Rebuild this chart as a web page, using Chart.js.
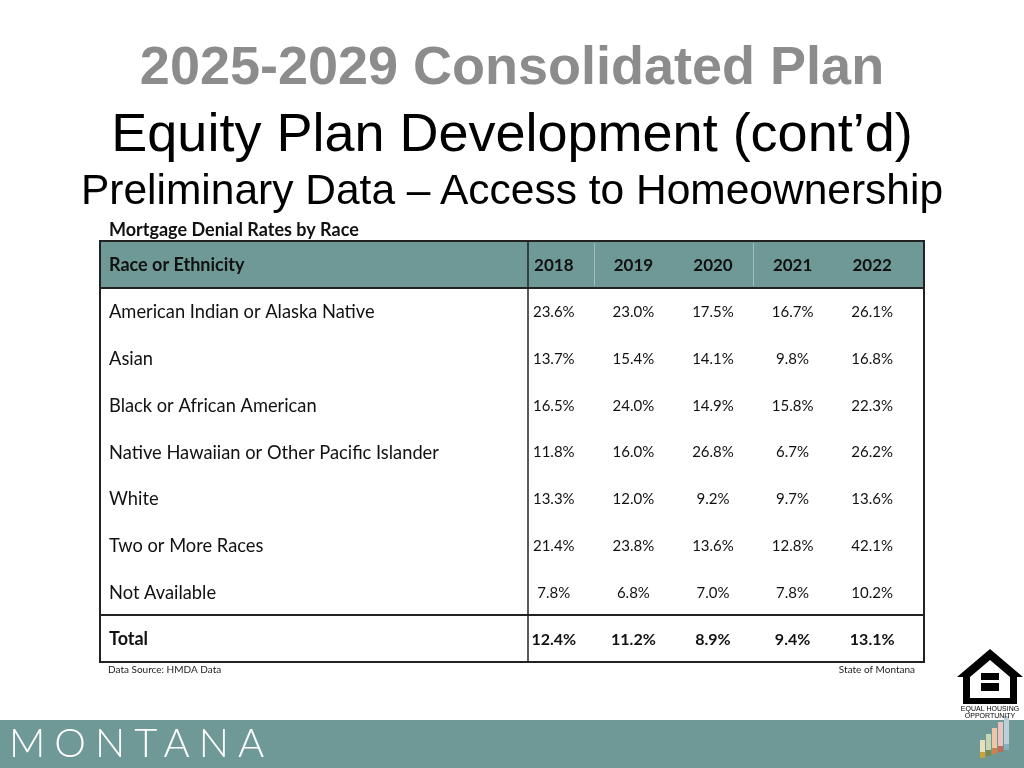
<!DOCTYPE html>
<html><head><meta charset="utf-8">
<script src="https://cdn.jsdelivr.net/npm/chart.js@4.4.1/dist/chart.umd.min.js"></script>
<style>
html,body{margin:0;padding:0;background:#fff;}
#wrap{position:relative;width:1024px;height:768px;overflow:hidden;}
canvas{position:absolute;left:0;top:0;}
.t{position:absolute;left:0;width:1024px;text-align:center;font-family:"Liberation Sans",Arial,sans-serif;white-space:nowrap;}
</style></head>
<body><div id="wrap">
<canvas id="c" width="1024" height="768"></canvas>
<div class="t" style="top:34px;font-size:54px;font-weight:bold;color:#8c8c8c;">2025-2029 Consolidated Plan</div>
<div class="t" style="top:101px;font-size:54px;color:#000;">Equity Plan Development (cont’d)</div>
<div class="t" style="top:166px;font-size:42.5px;color:#000;">Preliminary Data – Access to Homeownership</div>
</div>
<script>
const tableTitle = "Mortgage Denial Rates by Race";
const headerLabel = "Race or Ethnicity";
const years = ["2018","2019","2020","2021","2022"];
const rows = ["American Indian or Alaska Native","Asian","Black or African American","Native Hawaiian or Other Pacific Islander","White","Two or More Races","Not Available","Total"];
const v2018 = [23.6,13.7,16.5,11.8,13.3,21.4,7.8,12.4];
const v2019 = [23.0,15.4,24.0,16.0,12.0,23.8,6.8,11.2];
const v2020 = [17.5,14.1,14.9,26.8,9.2,13.6,7.0,8.9];
const v2021 = [16.7,9.8,15.8,6.7,9.7,12.8,7.8,9.4];
const v2022 = [26.1,16.8,22.3,26.2,13.6,42.1,10.2,13.1];
const sourceNote = "Data Source: HMDA Data";
const stateNote = "State of Montana";
const bandText = "MONTANA";

const series = [v2018,v2019,v2020,v2021,v2022];
const TEAL = "#6e9997";
const F = 'Lato, "Open Sans", sans-serif';
const TBL = {left:100,right:924,top:241};

const tablePlugin = {
  id:'tablePlugin',
  beforeDatasetsDraw(chart){
    const ctx = chart.ctx, ca = chart.chartArea;
    const xs = chart.scales.x, ys = chart.scales.y;
    ctx.save();
    ctx.fillStyle = TEAL;
    ctx.fillRect(TBL.left, TBL.top, TBL.right-TBL.left, ca.top-TBL.top);
    ctx.strokeStyle = "rgba(255,255,255,0.35)";
    ctx.lineWidth = 1;
    [0,2].forEach(i=>{
      const xm = Math.round((xs.getPixelForValue(i)+xs.getPixelForValue(i+1))/2)+0.5;
      ctx.beginPath();ctx.moveTo(xm,TBL.top+2);ctx.lineTo(xm,ca.top-2);ctx.stroke();
    });
    ctx.strokeStyle = "#222"; ctx.lineWidth = 2;
    ctx.strokeRect(TBL.left, TBL.top, TBL.right-TBL.left, ca.bottom-TBL.top);
    ctx.beginPath();ctx.moveTo(TBL.left,ca.top);ctx.lineTo(TBL.right,ca.top);ctx.stroke();
    const yTot = Math.round((ys.getPixelForValue(rows.length-2)+ys.getPixelForValue(rows.length-1))/2);
    ctx.beginPath();ctx.moveTo(TBL.left,yTot);ctx.lineTo(TBL.right,yTot);ctx.stroke();
    ctx.lineWidth = 1.5;
    ctx.beginPath();ctx.moveTo(528,TBL.top);ctx.lineTo(528,ca.bottom);ctx.stroke();
    ctx.fillStyle = "#111"; ctx.textBaseline = "middle";
    const hy = (TBL.top+ca.top)/2+1;
    ctx.font = "bold 18px "+F; ctx.textAlign = "left";
    ctx.fillText(headerLabel, 109, hy);
    ctx.font = "bold 17px "+F;
    ctx.textAlign = "center";
    years.forEach((y,i)=>ctx.fillText(y, xs.getPixelForValue(i), hy));
    ctx.textAlign = "left";
    rows.forEach((r,i)=>{
      ctx.font = (i===rows.length-1?"bold 18px ":"18.3px ")+F;
      ctx.fillText(r, 109, ys.getPixelForValue(i)+1);
    });
    ctx.font = "bold 18px "+F; ctx.textBaseline="alphabetic";
    ctx.fillText(tableTitle, 109, 236);
    ctx.font = "10px "+F; ctx.fillStyle="#222";
    ctx.fillText(sourceNote, 108, 673);
    ctx.textAlign="right";
    ctx.fillText(stateNote, 915, 673);
    // band
    ctx.fillStyle = TEAL;
    ctx.fillRect(0,720,1024,48);
    ctx.fillStyle = "#fff"; ctx.textAlign="left";
    ctx.font = '300 40px Lato, "Open Sans", sans-serif';
    if (ctx.letterSpacing !== undefined) ctx.letterSpacing = "9px";
    ctx.fillText(bandText, 9, 757);
    if (ctx.letterSpacing !== undefined) ctx.letterSpacing = "0px";
    // small bars icon
    const cols = ["#e8e0b8","#c7d6b4","#efc7a8","#e9c3c0","#bcd0d8"];
    const bots = ["#c9a23a","#7a8a4a","#d0804a","#c46a5a","#8ab0c0"];
    for(let k=0;k<5;k++){
      const h = 18+k*4, x = 980+k*6, yb = 758-k*2;
      ctx.fillStyle = cols[k];
      ctx.fillRect(x, yb-h, 5, h);
      ctx.fillStyle = bots[k];
      ctx.fillRect(x, yb-6, 5, 6);
    }
    // equal housing logo
    ctx.fillStyle="#000";
    ctx.beginPath();
    ctx.moveTo(990,649);ctx.lineTo(1023,677);ctx.lineTo(1017,677);ctx.lineTo(1017,704);
    ctx.lineTo(963,704);ctx.lineTo(963,677);ctx.lineTo(957,677);ctx.closePath();ctx.fill();
    ctx.fillStyle="#fff";
    ctx.beginPath();ctx.moveTo(990,660);ctx.lineTo(1010,677);ctx.lineTo(1010,698);ctx.lineTo(970,698);ctx.lineTo(970,677);ctx.closePath();ctx.fill();
    ctx.fillStyle="#000";
    ctx.fillRect(981,673,18,7);ctx.fillRect(981,683,18,8);
    ctx.font="7px 'Liberation Sans Narrow','Liberation Sans',sans-serif";ctx.textAlign="center";
    ctx.fillText("EQUAL HOUSING",990,711);ctx.fillText("OPPORTUNITY",990,718);
    ctx.restore();
  },
  afterDatasetsDraw(chart){
    const ctx = chart.ctx;
    ctx.save();
    ctx.fillStyle="#111"; ctx.textAlign="center"; ctx.textBaseline="middle";
    chart.data.datasets.forEach((ds,di)=>{
      const meta = chart.getDatasetMeta(di);
      meta.data.forEach((pt,i)=>{
        const bold = i===rows.length-1;
        ctx.font = (bold?"bold 16px ":"15px ")+F;
        ctx.fillText(ds.data[i].v.toFixed(1)+"%", pt.x, pt.y+1);
      });
    });
    ctx.restore();
  }
};

new Chart(document.getElementById('c'),{
  type:'scatter',
  data:{datasets: years.map((y,i)=>({
    label:y,
    data: series[i].map((v,r)=>({x:y,y:rows[r],v:v})),
    pointRadius:0, showLine:false
  }))},
  options:{
    responsive:false, animation:false,
    layout:{padding:{left:514,right:112,top:288,bottom:106}},
    scales:{
      x:{type:'category',labels:years,offset:true,display:false},
      y:{type:'category',labels:rows,offset:true,display:false}
    },
    plugins:{legend:{display:false},tooltip:{enabled:false},title:{display:false}}
  },
  plugins:[tablePlugin]
});
</script>
</body></html>
